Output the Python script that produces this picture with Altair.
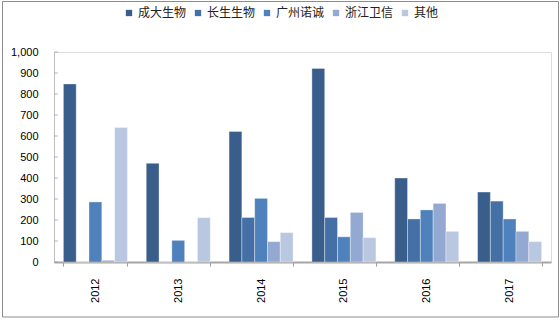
import altair as alt
import pandas as pd

years = ["2012", "2013", "2014", "2015", "2016", "2017"]
companies = ["成大生物", "长生生物", "广州诺诚", "浙江卫信", "其他"]
chengda = [848, 470, 622, 922, 400, 333]
changsheng = [0, 0, 212, 212, 205, 290]
guangzhou = [286, 103, 303, 120, 248, 205]
zhejiang = [8, 0, 97, 236, 279, 146]
other = [640, 211, 140, 116, 146, 97]
y_ticks = list(range(0, 1001, 100))
colors = ["#3A5E8C", "#4470A6", "#4F81BD", "#93A9D1", "#B9C7E1"]

series = [chengda, changsheng, guangzhou, zhejiang, other]
rows = []
for comp, vals in zip(companies, series):
    for yr, v in zip(years, vals):
        rows.append({"year": yr, "company": comp, "value": v})
df = pd.DataFrame(rows)

y_axis = alt.Axis(values=y_ticks, format=",.0f", ticks=False, labelPadding=16,
                  labelOverlap=False, domainColor="#BFBFBF", domainWidth=1, grid=False,
                  labelFont="Liberation Sans", labelFontSize=11, labelColor="#000000")
y_scale = alt.Scale(domain=[0, 1000], nice=False)

bars = alt.Chart(df).mark_bar(stroke="white", strokeWidth=0.5, strokeOpacity=0.7).encode(
    x=alt.X("year:N", sort=years, title=None,
            scale=alt.Scale(paddingInner=0.227, paddingOuter=0.1135),
            axis=alt.Axis(labelAngle=-90, tickBand="extent", labelPadding=12,
                          tickSize=4, tickColor="#999999", domainColor="#A6A6A6",
                          domainWidth=2, labelFont="Liberation Sans", labelFontSize=11,
                          labelColor="#000000")),
    xOffset=alt.XOffset("company:N", sort=companies, scale=alt.Scale(paddingInner=0, paddingOuter=0)),
    y=alt.Y("value:Q", title=None, scale=y_scale, axis=y_axis),
    color=alt.Color("company:N", sort=companies, title=None,
                    scale=alt.Scale(domain=companies, range=colors),
                    legend=alt.Legend(orient="none", legendX=69, legendY=-45,
                                      direction="horizontal", symbolType="square",
                                      symbolSize=40, symbolStrokeWidth=0,
                                      labelFont="Noto Sans CJK SC", labelFontSize=12,
                                      labelColor="#222222", labelOffset=3,
                                      columnPadding=5)),
)

ticks = alt.Chart(pd.DataFrame({"v": y_ticks})).mark_tick(
    color="#999999", size=4, thickness=1, orient="horizontal"
).encode(y=alt.Y("v:Q", title=None, scale=y_scale, axis=y_axis), x=alt.value(2))

frame = alt.Chart(alt.Data(values=[{}])).mark_rect(
    fill=None, stroke="#8C8C8C", strokeWidth=1
).encode(x=alt.value(-51.5), x2=alt.value(504.5), y=alt.value(-50.5), y2=alt.value(265))

chart = alt.layer(bars, ticks, frame).properties(
    width=497, height=210,
    autosize=alt.AutoSizeParams(type="none"),
    padding={"left": 54, "top": 52, "right": 9, "bottom": 58},
).configure_view(stroke=None).configure(background="white")

chart.save("out.html", embed_options={"renderer": "svg", "actions": False})
